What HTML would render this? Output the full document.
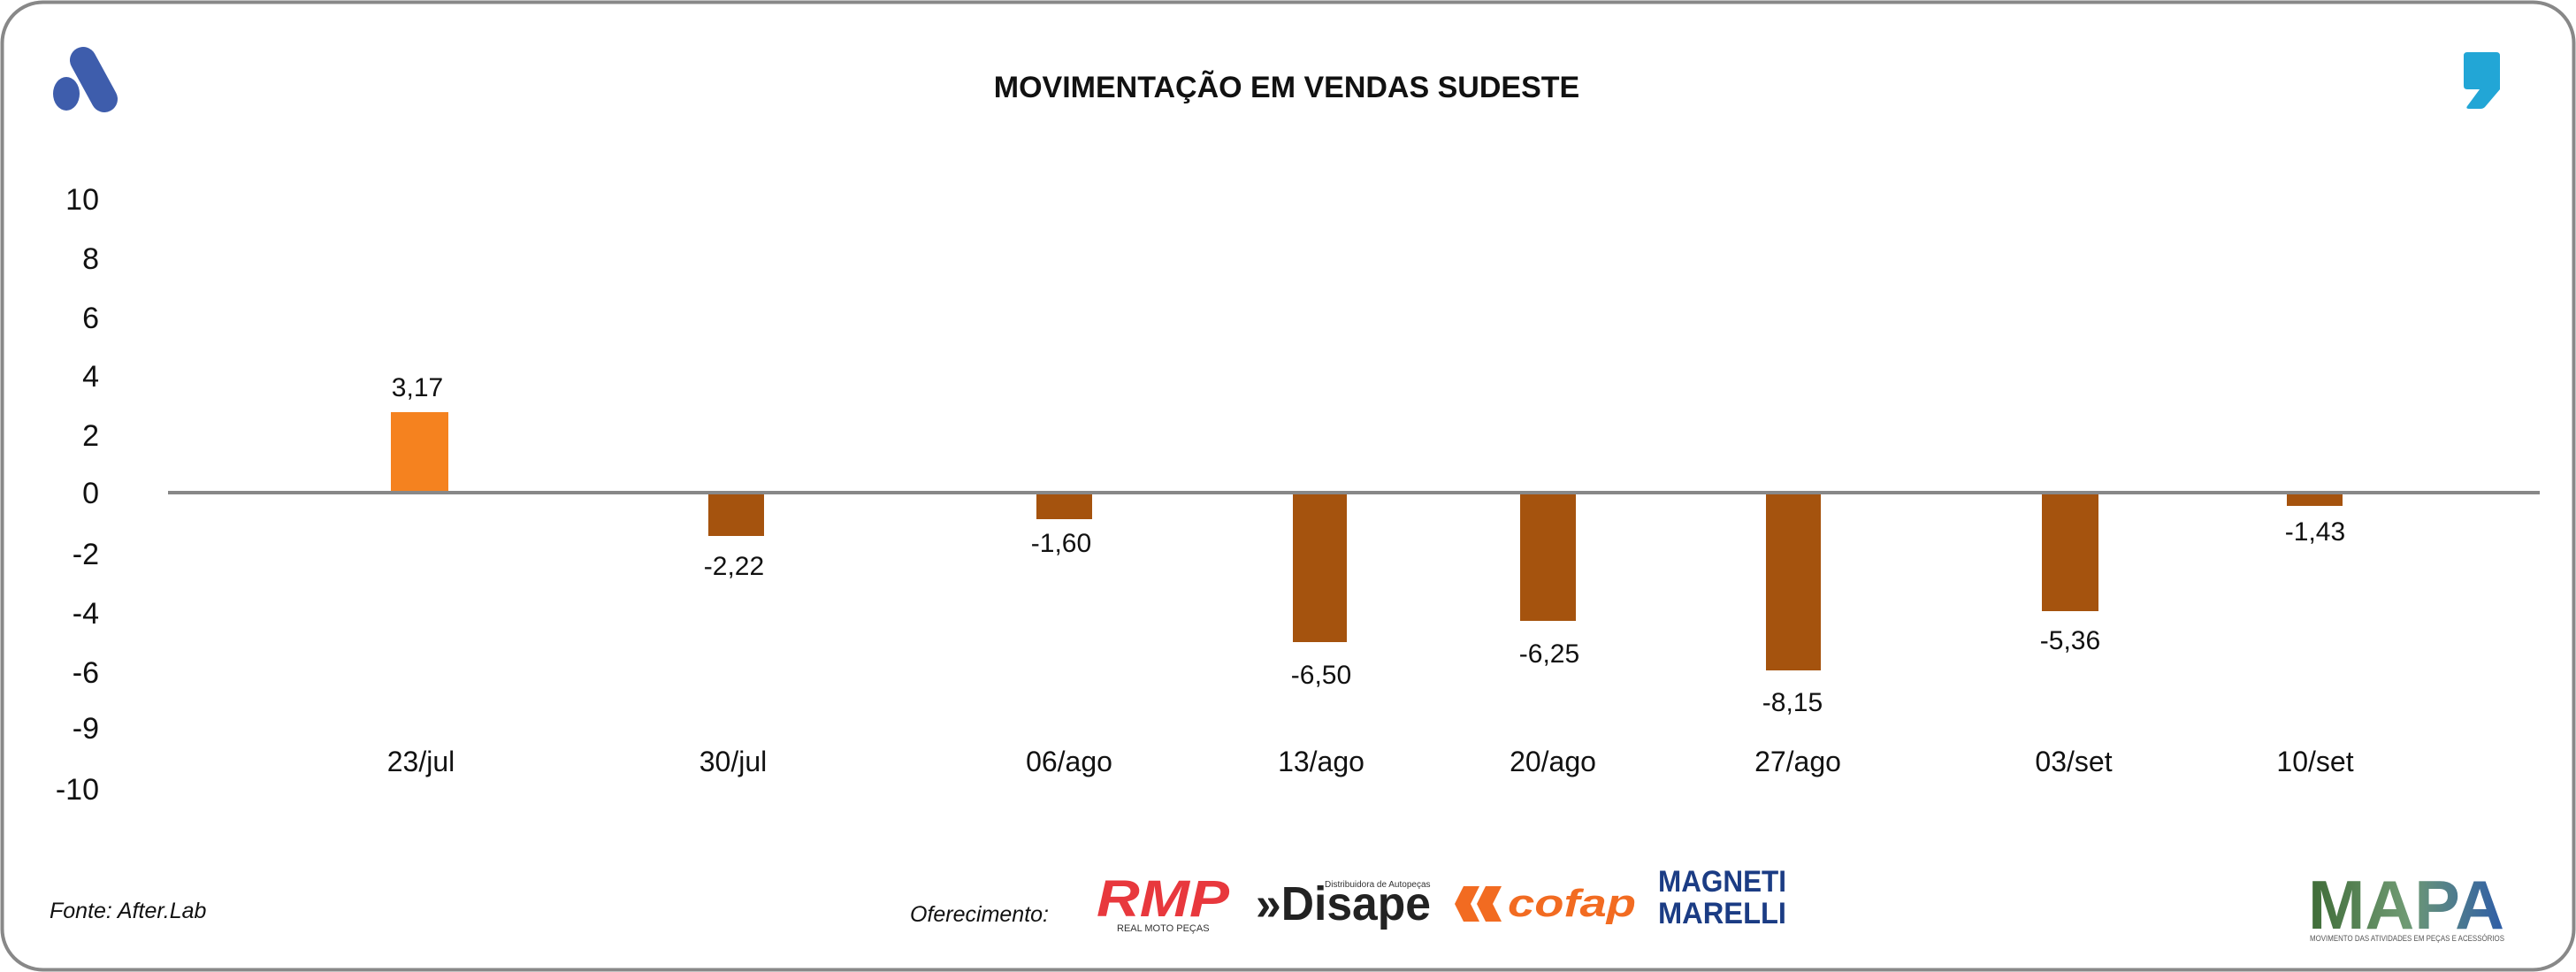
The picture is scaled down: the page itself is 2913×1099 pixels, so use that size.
<!DOCTYPE html>
<html><head><meta charset="utf-8"><style>
html,body{margin:0;padding:0;background:#fff;}
svg{display:block;}
text{font-family:"Liberation Sans",sans-serif;}
</style></head><body>
<svg width="2913" height="1099" viewBox="0 0 2913 1099" xmlns="http://www.w3.org/2000/svg">
<rect x="2.5" y="2.5" width="2908" height="1094" rx="46" ry="46" fill="#fff" stroke="#888" stroke-width="4"/>
<!-- top-left logo -->
<g fill="#3E5DAC">
<ellipse cx="75" cy="106" rx="15" ry="19"/>
<line x1="94" y1="68" x2="118" y2="112" stroke="#3E5DAC" stroke-width="30" stroke-linecap="round"/>
</g>
<!-- top-right comma -->
<path d="M2790 59 H2823 Q2827 59 2827 63 V101 L2810 121 Q2808 123 2805 123 H2792 Q2788 123 2790 120 L2804 101 H2790 Q2786 101 2786 97 V63 Q2786 59 2790 59Z" fill="#22A6D6"/>
<text x="1455" y="110" text-anchor="middle" font-size="34" font-weight="bold" fill="#111">MOVIMENTAÇÃO EM VENDAS SUDESTE</text>
<g font-size="34" fill="#111" text-anchor="end">
<text x="112" y="237">10</text>
<text x="112" y="304">8</text>
<text x="112" y="371">6</text>
<text x="112" y="437">4</text>
<text x="112" y="504">2</text>
<text x="112" y="569">0</text>
<text x="112" y="638">-2</text>
<text x="112" y="705">-4</text>
<text x="112" y="772">-6</text>
<text x="112" y="835">-9</text>
<text x="112" y="904">-10</text>
</g>
<rect x="442" y="466" width="65" height="91" fill="#F5821F"/>
<g fill="#A5530E">
<rect x="801" y="557" width="63" height="49"/>
<rect x="1172" y="557" width="63" height="30"/>
<rect x="1462" y="557" width="61" height="169"/>
<rect x="1719" y="557" width="63" height="145"/>
<rect x="1997" y="557" width="62" height="201"/>
<rect x="2309" y="557" width="64" height="134"/>
<rect x="2586" y="557" width="63" height="15"/>
</g>
<rect x="190" y="555" width="2682" height="4" fill="#888"/>
<g font-size="30" fill="#111" text-anchor="middle">
<text x="472" y="448">3,17</text>
<text x="830" y="650">-2,22</text>
<text x="1200" y="624">-1,60</text>
<text x="1494" y="773">-6,50</text>
<text x="1752" y="749">-6,25</text>
<text x="2027" y="804">-8,15</text>
<text x="2341" y="734">-5,36</text>
<text x="2618" y="611">-1,43</text>
</g>
<g font-size="32" fill="#111" text-anchor="middle">
<text x="476" y="872">23/jul</text>
<text x="829" y="872">30/jul</text>
<text x="1209" y="872">06/ago</text>
<text x="1494" y="872">13/ago</text>
<text x="1756" y="872">20/ago</text>
<text x="2033" y="872">27/ago</text>
<text x="2345" y="872">03/set</text>
<text x="2618" y="872">10/set</text>
</g>
<text x="56" y="1038" font-size="25" font-style="italic" fill="#111">Fonte: After.Lab</text>
<text x="1029" y="1042" font-size="25" font-style="italic" fill="#111">Oferecimento:</text>
<!-- RMP -->
<text x="1240" y="1036" font-size="58" font-weight="bold" font-style="italic" fill="#E8383D" textLength="150" lengthAdjust="spacingAndGlyphs">RMP</text>
<text x="1263" y="1053" font-size="11" fill="#333">REAL MOTO PEÇAS</text>
<!-- Disape -->
<text x="1420" y="1040" font-size="54" font-weight="bold" fill="#222" textLength="198" lengthAdjust="spacingAndGlyphs">»Disape</text>
<text x="1498" y="1003" font-size="10" fill="#333">Distribuidora de Autopeças</text>
<!-- cofap -->
<path d="M1655 1002 l18 0 l-10 20 l10 20 l-18 0 l-10 -20z M1680 1002 l18 0 l-10 20 l10 20 l-18 0 l-10 -20z" fill="#F26B21"/>
<text x="1705" y="1036" font-size="44" font-weight="bold" font-style="italic" fill="#F26B21" textLength="145" lengthAdjust="spacingAndGlyphs">cofap</text>
<!-- Magneti Marelli -->
<text x="1875" y="1008" font-size="34" font-weight="bold" fill="#1B3C84" textLength="145" lengthAdjust="spacingAndGlyphs">MAGNETI</text>
<text x="1875" y="1044" font-size="34" font-weight="bold" fill="#1B3C84" textLength="145" lengthAdjust="spacingAndGlyphs">MARELLI</text>
<!-- MAPA -->
<defs><linearGradient id="mg" x1="0" x2="1"><stop offset="0" stop-color="#3E6B36"/><stop offset="0.5" stop-color="#6F9A73"/><stop offset="1" stop-color="#2E5DA8"/></linearGradient></defs>
<text x="2610" y="1050" font-size="78" font-weight="bold" fill="url(#mg)" textLength="222" lengthAdjust="spacingAndGlyphs">MAPA</text>
<text x="2612" y="1064" font-size="9" fill="#555" textLength="220" lengthAdjust="spacingAndGlyphs">MOVIMENTO DAS ATIVIDADES EM PEÇAS E ACESSÓRIOS</text>
</svg>
</body></html>
